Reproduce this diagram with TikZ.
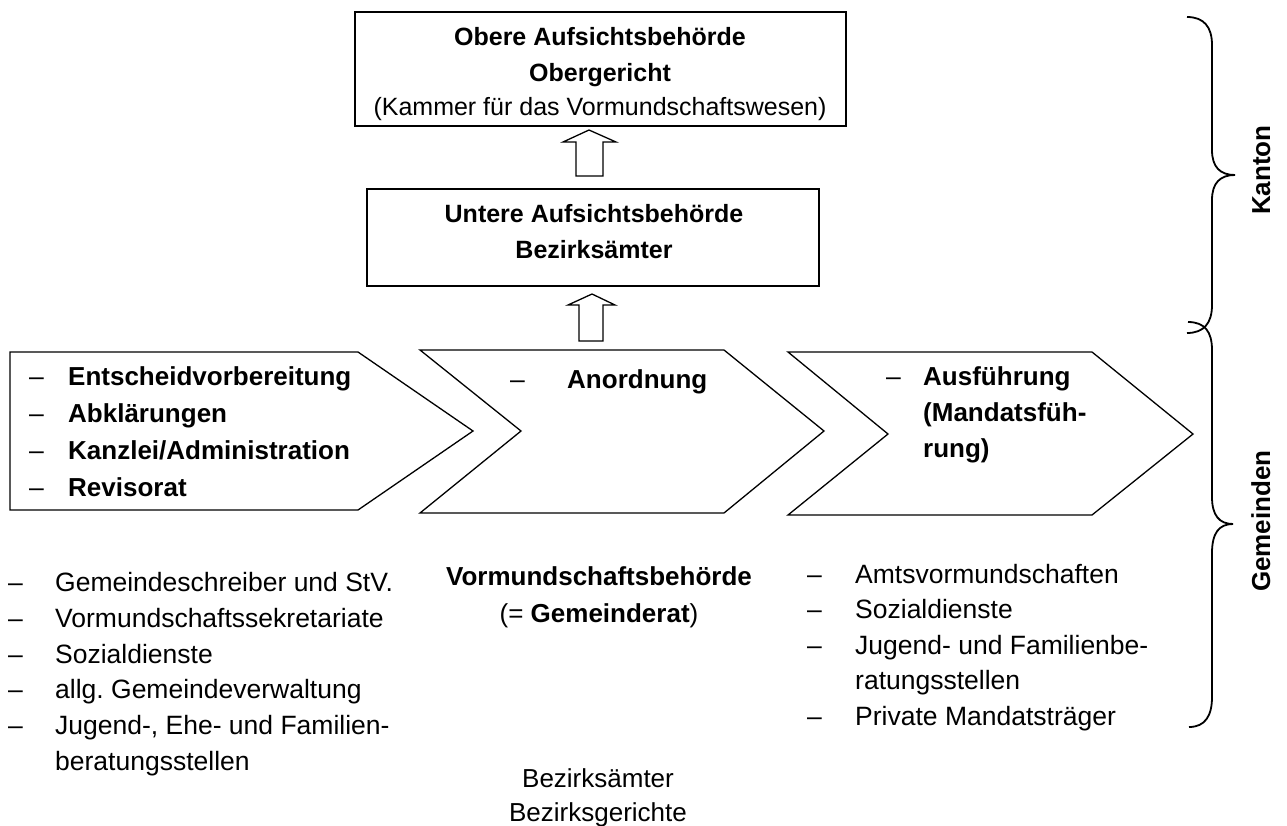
\documentclass[tikz,border=0pt]{standalone}
\usepackage{fontspec}
\setmainfont{Liberation Sans}
\frenchspacing
\begin{document}
\begin{tikzpicture}[x=1pt,y=-1pt,
  box/.style={draw,line width=1.4pt,inner sep=0pt},
  shapeline/.style={draw,line width=1.3pt,line join=miter},
  blockarrow/.style={draw,line width=1.3pt,fill=white},
  bracepath/.style={draw,line width=1.8pt},
  bt/.style={font=\fontsize{25}{30}\selectfont\bfseries,anchor=base,inner sep=0pt},
  rt/.style={font=\fontsize{25}{30}\selectfont,anchor=base,inner sep=0pt},
  cb/.style={font=\fontsize{26}{30}\selectfont\bfseries,anchor=base west,inner sep=0pt},
  cr/.style={font=\fontsize{26.5}{30}\selectfont,anchor=base west,inner sep=0pt},
  cc/.style={font=\fontsize{26}{30}\selectfont,anchor=base,inner sep=0pt},
  side/.style={font=\fontsize{26}{30}\selectfont\bfseries,anchor=base,inner sep=0pt,rotate=90}
]
\useasboundingbox (0,0) rectangle (1287,825);

% top boxes
\node[box,minimum width=491pt,minimum height=114pt] (obere) at (600.5,69) {};
\node[bt] (o1) at (600,45) {Obere Aufsichtsbehörde};
\node[bt] (o2) at (600,81) {Obergericht};
\node[rt] (o3) at (600,115) {(Kammer für das Vormundschaftswesen)};

\node[box,minimum width=452pt,minimum height=97pt] (untere) at (593,237.5) {};
\node[bt] (u1) at (594,222) {Untere Aufsichtsbehörde};
\node[bt] (u2) at (594,258) {Bezirksämter};

% block arrows
\draw[blockarrow] (589,130) -- (616,142) -- (603,142) -- (603,176) -- (576,176) -- (576,142) -- (563,142) -- cycle;
\draw[blockarrow] (592,294) -- (615,305) -- (603,305) -- (603,341) -- (579,341) -- (579,305) -- (568,305) -- cycle;

% chevrons
\draw[shapeline] (10,352) -- (358,352) -- (473,431) -- (358,510) -- (10,510) -- cycle;
\draw[shapeline] (420,350) -- (724,350) -- (824,431) -- (724,513) -- (420,513) -- (521,431) -- cycle;
\draw[shapeline] (788,352) -- (1092,352) -- (1193,434) -- (1092,515) -- (788,515) -- (888,434) -- cycle;

% chevron 1 text
\foreach \t [count=\i from 0] in {Entscheidvorbereitung,Abklärungen,Kanzlei/Administration,Revisorat}{
  \node[cr] (c1d\i) at (29,385+37.3*\i) {–};
  \node[cb] (c1t\i) at (68,385+37.3*\i) {\t};
}
% chevron 2 text
\node[cr] (c2d) at (510,388) {–};
\node[cb] (c2t) at (567,388) {Anordnung};
% chevron 3 text
\node[cr] (c3d) at (886,385) {–};
\node[cb] (c3a) at (923,385) {Ausführung};
\node[cb] (c3b) at (923,421) {(Mandatsfüh-};
\node[cb] (c3c) at (923,457) {rung)};

% left list
\foreach \t [count=\i from 0] in {Gemeindeschreiber und StV.,Vormundschaftssekretariate,Sozialdienste,allg. Gemeindeverwaltung,{Jugend-, Ehe- und Familien-}}{
  \node[cr] (ld\i) at (8,591.7+35.7*\i) {–};
  \node[cr] (lt\i) at (55,591.7+35.7*\i) {\t};
}
\node[cr] (lt5) at (55,591.7+35.7*5) {beratungsstellen};

% right list
\node[cr] (rd0) at (807,583) {–};
\node[cr] (rt0) at (855,583) {Amtsvormundschaften};
\node[cr] (rd1) at (807,618.5) {–};
\node[cr] (rt1) at (855,618.5) {Sozialdienste};
\node[cr] (rd2) at (807,654) {–};
\node[cr] (rt2) at (855,654) {Jugend- und Familienbe-};
\node[cr] (rt3) at (855,689.5) {ratungsstellen};
\node[cr] (rd4) at (807,725) {–};
\node[cr] (rt4) at (855,725) {Private Mandatsträger};

% centre texts
\node[cc,font=\fontsize{26}{30}\selectfont\bfseries] (vb) at (599,585) {Vormundschaftsbehörde};
\node[cc] (gr) at (599,622) {(= \textbf{Gemeinderat})};
\node[cc] (ba) at (598,787) {Bezirksämter};
\node[cc] (bg) at (598,821) {Bezirksgerichte};

% braces
\draw[bracepath] (1187,17) .. controls (1204,17) and (1212,27) .. (1212,45) -- (1212,150)
  .. controls (1212,167) and (1220,175) .. (1235,175)
  .. controls (1220,175) and (1212,183) .. (1212,200) -- (1212,305)
  .. controls (1212,323) and (1204,333) .. (1187,333);
\draw[bracepath] (1188,322) .. controls (1205,322) and (1212,332) .. (1212,350) -- (1212,497)
  .. controls (1212,515) and (1219,524) .. (1233,524)
  .. controls (1219,524) and (1212,533) .. (1212,553) -- (1212,697)
  .. controls (1212,716) and (1205,727) .. (1189,727);
\node[side] (kanton) at (1270,170) {Kanton};
\node[side] (gemeinden) at (1270,521) {Gemeinden};
\end{tikzpicture}
\end{document}
